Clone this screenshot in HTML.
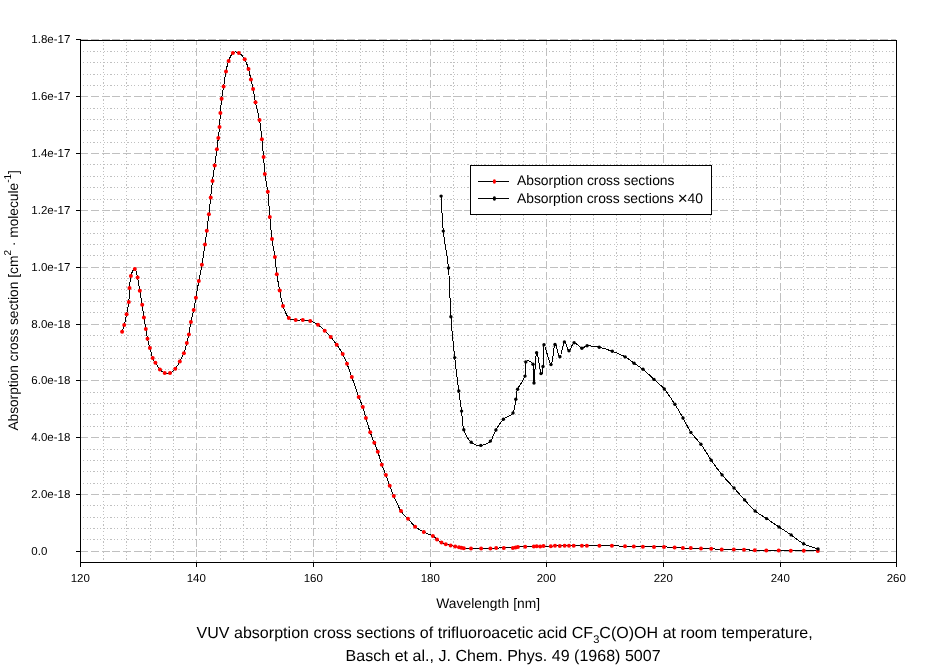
<!DOCTYPE html>
<html><head><meta charset="utf-8"><title>VUV absorption cross sections</title>
<style>html,body{margin:0;padding:0;background:#fff}svg{display:block;will-change:transform}text{font-family:"Liberation Sans",Arial,sans-serif;fill:#000;-webkit-font-smoothing:antialiased;text-rendering:geometricPrecision}</style></head><body>
<svg width="936" height="668" viewBox="0 0 936 668">
<rect width="936" height="668" fill="#fff"/>
<g shape-rendering="crispEdges" fill="none">
<path d="M103.5 41V562M126.5 41V562M150.5 41V562M173.5 41V562M220.5 41V562M243.5 41V562M266.5 41V562M290.5 41V562M336.5 41V562M360.5 41V562M383.5 41V562M406.5 41V562M453.5 41V562M476.5 41V562M500.5 41V562M523.5 41V562M570.5 41V562M593.5 41V562M616.5 41V562M640.5 41V562M686.5 41V562M710.5 41V562M733.5 41V562M756.5 41V562M803.5 41V562M826.5 41V562M850.5 41V562M873.5 41V562" stroke="#c0c0c0" stroke-width="1" stroke-dasharray="2 2 1 2 1 3 1 2 1 2" stroke-dashoffset="10"/>
<path d="M81 51.5H896M81 62.5H896M81 74.5H896M81 85.5H896M81 108.5H896M81 119.5H896M81 130.5H896M81 142.5H896M81 164.5H896M81 176.5H896M81 187.5H896M81 199.5H896M81 221.5H896M81 233.5H896M81 244.5H896M81 255.5H896M81 278.5H896M81 289.5H896M81 301.5H896M81 312.5H896M81 335.5H896M81 346.5H896M81 358.5H896M81 369.5H896M81 392.5H896M81 403.5H896M81 414.5H896M81 426.5H896M81 449.5H896M81 460.5H896M81 471.5H896M81 483.5H896M81 505.5H896M81 517.5H896M81 528.5H896M81 539.5H896" stroke="#c0c0c0" stroke-width="1" stroke-dasharray="2 2 1 2 1 3 1 2 1 2" stroke-dashoffset="5"/>
<path d="M196.5 41V562M313.5 41V562M430.5 41V562M546.5 41V562M663.5 41V562M780.5 41V562" stroke="#c0c0c0" stroke-width="1" stroke-dasharray="8 3 8 3 8 2" stroke-dashoffset="4"/>
<path d="M81 39.5H896M81 96.5H896M81 153.5H896M81 210.5H896M81 267.5H896M81 324.5H896M81 380.5H896M81 437.5H896M81 494.5H896M81 551.5H896" stroke="#c0c0c0" stroke-width="1" stroke-dasharray="8 3 8 3 8 2" stroke-dashoffset="1"/>
<rect x="80.5" y="40.5" width="816.0" height="522.0" stroke="#000" stroke-width="1"/>
<path d="M80.5 562.5V567.0M196.5 562.5V567.0M313.5 562.5V567.0M430.5 562.5V567.0M546.5 562.5V567.0M663.5 562.5V567.0M780.5 562.5V567.0M896.5 562.5V567.0M76.0 39.5H80.5M76.0 96.5H80.5M76.0 153.5H80.5M76.0 210.5H80.5M76.0 267.5H80.5M76.0 324.5H80.5M76.0 380.5H80.5M76.0 437.5H80.5M76.0 494.5H80.5M76.0 551.5H80.5" stroke="#000" stroke-width="1"/>
</g>
<g fill="none" stroke="#000" stroke-width="1" stroke-linejoin="round" shape-rendering="crispEdges">
<path d="M122.1 331.8C122.4 330.7 123.5 328.0 124.2 325.1C125.0 322.2 125.8 318.1 126.6 314.3C127.4 310.5 128.3 306.5 128.8 302.1C129.3 297.7 129.2 292.4 129.5 288.0C129.8 283.6 130.0 279.2 130.9 276.0C131.8 272.8 133.7 268.8 134.8 269.0C135.9 269.2 136.8 273.8 137.6 277.4C138.4 281.0 139.0 286.2 139.8 290.8C140.6 295.4 141.5 300.3 142.2 304.7C142.9 309.1 143.3 313.3 143.9 317.4C144.5 321.4 145.2 325.4 145.8 329.0C146.4 332.6 146.8 335.7 147.5 338.8C148.2 341.9 149.0 344.7 149.9 347.9C150.8 351.1 151.8 355.5 152.7 358.0C153.6 360.5 154.2 360.9 155.4 362.8C156.6 364.7 158.4 367.8 159.9 369.5C161.4 371.2 163.0 372.5 164.7 373.1C166.4 373.7 168.2 373.8 170.0 373.1C171.8 372.4 173.7 370.6 175.3 368.7C176.9 366.8 178.4 364.2 179.8 361.6C181.2 359.0 182.7 356.3 183.9 353.2C185.1 350.1 186.0 346.2 186.8 343.1C187.6 340.0 188.2 338.0 188.9 334.5C189.6 331.0 190.1 326.1 190.9 322.0C191.7 317.9 192.9 314.0 193.7 310.0C194.5 306.0 195.1 302.6 195.9 297.8C196.8 293.0 197.8 286.5 198.8 281.0C199.8 275.5 200.9 270.8 201.9 264.7C202.9 258.6 204.2 250.2 205.0 244.6C205.8 238.9 206.2 235.9 206.8 230.8C207.5 225.8 208.2 219.9 208.9 214.3C209.6 208.7 210.1 203.0 210.7 197.4C211.3 191.8 211.8 186.2 212.5 180.9C213.2 175.6 214.0 170.7 214.7 165.4C215.4 160.1 216.3 153.9 216.9 149.3C217.5 144.8 217.9 141.8 218.3 138.1C218.7 134.4 219.2 131.2 219.5 127.0C219.8 122.8 220.1 117.6 220.4 112.9C220.8 108.2 221.1 103.1 221.6 98.7C222.1 94.3 222.9 91.0 223.6 86.5C224.3 82.0 225.2 75.9 226.0 71.6C226.8 67.3 227.4 64.0 228.6 60.9C229.8 57.8 231.2 54.2 232.9 52.9C234.6 51.6 236.9 51.8 238.9 52.9C240.9 54.0 243.1 56.5 244.7 59.2C246.3 61.9 247.5 65.6 248.5 69.0C249.5 72.4 250.1 76.3 250.9 79.6C251.7 82.9 252.3 85.1 253.1 88.9C253.9 92.7 254.4 97.1 255.5 102.3C256.6 107.5 258.4 113.9 259.5 120.1C260.6 126.3 261.2 133.2 261.9 139.3C262.6 145.5 263.1 151.2 263.6 157.0C264.1 162.8 264.1 168.2 264.8 174.0C265.5 179.8 267.0 184.7 267.8 191.8C268.6 199.0 269.1 209.0 269.8 216.9C270.5 224.8 271.1 232.3 272.0 239.0C272.9 245.7 274.1 251.1 274.9 257.0C275.7 262.9 276.0 268.6 276.8 274.2C277.6 279.8 278.7 285.2 279.7 290.5C280.7 295.8 281.5 301.3 283.0 305.9C284.5 310.5 286.7 315.8 288.8 318.1C290.9 320.5 293.4 319.7 295.7 320.0C298.0 320.3 300.4 319.8 302.8 320.0C305.2 320.2 307.7 320.2 310.2 321.0C312.7 321.8 315.6 323.2 318.0 324.8C320.4 326.4 322.6 328.8 324.7 330.8C326.8 332.8 328.7 334.6 330.7 336.9C332.7 339.2 334.7 342.0 336.7 344.8C338.7 347.6 341.0 350.7 342.7 353.9C344.4 357.1 345.5 359.9 347.0 363.8C348.5 367.7 349.9 371.5 351.8 377.0C353.8 382.5 356.9 391.9 358.7 396.9C360.5 401.9 361.6 403.4 362.8 406.9C364.0 410.4 364.7 413.8 365.9 418.0C367.1 422.2 368.8 428.1 370.2 432.2C371.6 436.3 373.0 439.6 374.3 442.8C375.6 446.1 376.6 448.0 377.8 451.7C379.1 455.4 380.5 460.9 381.8 464.8C383.1 468.7 384.6 471.4 385.9 474.9C387.2 478.4 388.4 482.2 389.7 485.7C391.0 489.2 391.9 491.8 393.8 496.0C395.7 500.2 398.6 507.3 401.0 511.1C403.4 514.9 405.6 516.2 408.0 518.8C410.4 521.4 412.5 524.5 415.1 526.7C417.7 528.9 420.8 530.5 423.8 532.0C426.8 533.5 430.7 534.8 432.9 536.0C435.1 537.2 435.6 538.3 437.0 539.4C438.4 540.5 440.0 541.7 441.5 542.5C443.0 543.3 444.3 543.7 445.8 544.2C447.3 544.7 449.0 545.0 450.6 545.4C452.2 545.8 453.8 546.3 455.2 546.6C456.6 546.9 458.0 547.1 459.0 547.3C460.0 547.5 460.6 547.6 461.4 547.8C462.2 548.0 462.2 548.2 463.8 548.3C465.4 548.4 468.1 548.5 471.0 548.5C473.9 548.5 477.9 548.5 481.1 548.5C484.3 548.5 487.9 548.5 490.4 548.4C492.9 548.3 494.0 548.2 496.2 548.1C498.4 548.0 501.0 547.9 503.8 547.9C506.6 547.9 510.9 548.0 512.9 547.9C514.9 547.8 514.8 547.6 515.6 547.5C516.4 547.4 516.3 547.2 517.9 547.1C519.5 547.0 522.6 546.8 525.2 546.7C527.9 546.6 531.9 546.6 533.8 546.5C535.7 546.4 535.6 546.2 536.7 546.2C537.8 546.2 539.1 546.5 540.2 546.5C541.3 546.5 541.7 546.0 543.5 546.0C545.3 546.0 548.9 546.2 550.8 546.2C552.7 546.2 553.5 545.8 555.0 545.8C556.5 545.8 558.2 546.0 559.8 546.0C561.4 546.0 563.1 545.8 564.6 545.8C566.1 545.8 567.5 545.8 569.0 545.8C570.5 545.8 571.6 545.8 573.7 545.8C575.9 545.8 579.7 545.8 581.9 545.8C584.1 545.8 584.0 545.8 586.9 545.8C589.8 545.8 595.2 545.8 599.4 545.8C603.6 545.8 607.6 545.7 611.9 545.8C616.2 545.9 621.4 546.1 625.0 546.2C628.6 546.3 630.8 546.4 633.8 546.5C636.8 546.6 639.5 546.6 642.9 546.7C646.3 546.8 650.5 546.9 654.0 546.9C657.5 546.9 660.6 546.8 664.0 546.9C667.4 547.0 671.5 547.3 674.6 547.5C677.8 547.7 680.2 548.0 682.9 548.1C685.6 548.2 687.8 548.0 690.8 548.1C693.8 548.2 697.6 548.4 701.0 548.5C704.4 548.6 707.8 548.6 711.2 548.8C714.7 548.9 717.9 549.3 721.7 549.4C725.5 549.5 730.1 549.3 733.8 549.4C737.5 549.5 740.5 549.7 744.0 549.8C747.5 549.9 751.1 550.1 754.8 550.2C758.5 550.3 762.3 550.4 766.3 550.4C770.3 550.4 774.6 550.3 778.7 550.4C782.8 550.5 786.6 550.7 790.8 550.8C795.0 550.9 799.3 550.8 803.8 550.8C808.3 550.8 815.5 551.0 817.8 551.0"/>
<path d="M441.1 196.1C441.5 201.9 442.1 219.1 443.3 231.1C444.5 243.1 447.2 253.7 448.5 268.0C449.8 282.3 449.9 301.8 450.9 316.7C451.9 331.6 453.4 345.2 454.7 357.6C456.0 370.0 457.6 382.1 458.8 391.0C460.0 399.9 460.8 404.6 461.6 411.1C462.4 417.6 462.2 424.6 463.8 429.8C465.4 435.0 468.4 439.7 471.2 442.3C474.0 444.9 477.6 445.6 480.8 445.4C484.0 445.2 487.9 443.7 490.4 441.1C492.9 438.5 493.7 433.6 495.9 430.0C498.1 426.4 500.5 422.1 503.4 419.3C506.2 416.5 510.9 416.4 513.0 413.0C515.1 409.6 515.0 403.2 515.8 399.2C516.6 395.2 516.1 393.0 517.6 389.2C519.1 385.4 523.6 380.7 525.0 376.1C526.4 371.6 524.5 363.9 525.8 361.9C527.1 359.9 531.6 360.7 533.0 364.2C534.4 367.7 533.4 384.9 534.0 383.0C534.6 381.1 535.4 354.3 536.6 352.7C537.8 351.1 539.9 371.3 541.0 373.6C542.1 375.9 542.5 371.3 543.0 366.5C543.5 361.7 542.7 345.0 544.0 344.7C545.3 344.4 549.2 364.6 551.0 364.6C552.8 364.6 553.5 345.8 555.0 344.5C556.5 343.2 558.3 357.2 559.9 356.8C561.5 356.4 562.9 342.9 564.4 341.9C565.9 340.9 567.4 350.6 569.0 350.8C570.6 351.0 572.0 343.2 574.1 342.8C576.2 342.4 579.7 347.7 581.9 348.2C584.1 348.7 584.2 345.9 587.1 345.8C590.0 345.7 595.0 346.4 599.2 347.3C603.4 348.2 608.0 349.7 612.3 351.3C616.6 352.9 621.6 354.9 625.2 356.9C628.8 358.9 631.1 361.2 634.1 363.3C637.1 365.4 639.7 366.6 643.0 369.3C646.3 372.0 650.5 376.1 654.0 379.4C657.5 382.7 660.8 384.9 664.3 389.0C667.8 393.1 671.8 399.5 674.9 404.3C678.0 409.1 680.3 413.3 683.0 418.0C685.7 422.7 687.9 428.0 690.9 432.4C693.9 436.8 697.5 439.6 700.9 444.2C704.3 448.8 707.7 455.1 711.2 460.2C714.7 465.3 718.3 470.3 722.1 474.9C725.9 479.5 730.2 483.8 734.0 488.0C737.8 492.2 741.1 496.1 744.6 499.9C748.1 503.7 751.4 507.9 755.1 511.0C758.8 514.1 762.6 515.9 766.6 518.6C770.6 521.3 775.0 524.3 779.1 527.0C783.2 529.7 787.0 532.1 791.1 534.9C795.2 537.7 799.1 541.4 803.6 543.8C808.1 546.1 815.6 548.1 818.0 549.0"/>
</g>
<g fill="#ff0000"><circle cx="122.1" cy="331.8" r="2"/><circle cx="124.2" cy="325.1" r="2"/><circle cx="126.6" cy="314.3" r="2"/><circle cx="128.8" cy="302.1" r="2"/><circle cx="129.5" cy="288.0" r="2"/><circle cx="130.9" cy="276.0" r="2"/><circle cx="134.8" cy="269.0" r="2"/><circle cx="137.6" cy="277.4" r="2"/><circle cx="139.8" cy="290.8" r="2"/><circle cx="142.2" cy="304.7" r="2"/><circle cx="143.9" cy="317.4" r="2"/><circle cx="145.8" cy="329.0" r="2"/><circle cx="147.5" cy="338.8" r="2"/><circle cx="149.9" cy="347.9" r="2"/><circle cx="152.7" cy="358.0" r="2"/><circle cx="155.4" cy="362.8" r="2"/><circle cx="159.9" cy="369.5" r="2"/><circle cx="164.7" cy="373.1" r="2"/><circle cx="170.0" cy="373.1" r="2"/><circle cx="175.3" cy="368.7" r="2"/><circle cx="179.8" cy="361.6" r="2"/><circle cx="183.9" cy="353.2" r="2"/><circle cx="186.8" cy="343.1" r="2"/><circle cx="188.9" cy="334.5" r="2"/><circle cx="190.9" cy="322.0" r="2"/><circle cx="193.7" cy="310.0" r="2"/><circle cx="195.9" cy="297.8" r="2"/><circle cx="198.8" cy="281.0" r="2"/><circle cx="201.9" cy="264.7" r="2"/><circle cx="205.0" cy="244.6" r="2"/><circle cx="206.8" cy="230.8" r="2"/><circle cx="208.9" cy="214.3" r="2"/><circle cx="210.7" cy="197.4" r="2"/><circle cx="212.5" cy="180.9" r="2"/><circle cx="214.7" cy="165.4" r="2"/><circle cx="216.9" cy="149.3" r="2"/><circle cx="218.3" cy="138.1" r="2"/><circle cx="219.5" cy="127.0" r="2"/><circle cx="220.4" cy="112.9" r="2"/><circle cx="221.6" cy="98.7" r="2"/><circle cx="223.6" cy="86.5" r="2"/><circle cx="226.0" cy="71.6" r="2"/><circle cx="228.6" cy="60.9" r="2"/><circle cx="232.9" cy="52.9" r="2"/><circle cx="238.9" cy="52.9" r="2"/><circle cx="244.7" cy="59.2" r="2"/><circle cx="248.5" cy="69.0" r="2"/><circle cx="250.9" cy="79.6" r="2"/><circle cx="253.1" cy="88.9" r="2"/><circle cx="255.5" cy="102.3" r="2"/><circle cx="259.5" cy="120.1" r="2"/><circle cx="261.9" cy="139.3" r="2"/><circle cx="263.6" cy="157.0" r="2"/><circle cx="264.8" cy="174.0" r="2"/><circle cx="267.8" cy="191.8" r="2"/><circle cx="269.8" cy="216.9" r="2"/><circle cx="272.0" cy="239.0" r="2"/><circle cx="274.9" cy="257.0" r="2"/><circle cx="276.8" cy="274.2" r="2"/><circle cx="279.7" cy="290.5" r="2"/><circle cx="283.0" cy="305.9" r="2"/><circle cx="288.8" cy="318.1" r="2"/><circle cx="295.7" cy="320.0" r="2"/><circle cx="302.8" cy="320.0" r="2"/><circle cx="310.2" cy="321.0" r="2"/><circle cx="318.0" cy="324.8" r="2"/><circle cx="324.7" cy="330.8" r="2"/><circle cx="330.7" cy="336.9" r="2"/><circle cx="336.7" cy="344.8" r="2"/><circle cx="342.7" cy="353.9" r="2"/><circle cx="347.0" cy="363.8" r="2"/><circle cx="351.8" cy="377.0" r="2"/><circle cx="358.7" cy="396.9" r="2"/><circle cx="362.8" cy="406.9" r="2"/><circle cx="365.9" cy="418.0" r="2"/><circle cx="370.2" cy="432.2" r="2"/><circle cx="374.3" cy="442.8" r="2"/><circle cx="377.8" cy="451.7" r="2"/><circle cx="381.8" cy="464.8" r="2"/><circle cx="385.9" cy="474.9" r="2"/><circle cx="389.7" cy="485.7" r="2"/><circle cx="393.8" cy="496.0" r="2"/><circle cx="401.0" cy="511.1" r="2"/><circle cx="408.0" cy="518.8" r="2"/><circle cx="415.1" cy="526.7" r="2"/><circle cx="423.8" cy="532.0" r="2"/><circle cx="432.9" cy="536.0" r="2"/><circle cx="437.0" cy="539.4" r="2"/><circle cx="441.5" cy="542.5" r="2"/><circle cx="445.8" cy="544.2" r="2"/><circle cx="450.6" cy="545.4" r="2"/><circle cx="455.2" cy="546.6" r="2"/><circle cx="459.0" cy="547.3" r="2"/><circle cx="461.4" cy="547.8" r="2"/><circle cx="463.8" cy="548.3" r="2"/><circle cx="471.0" cy="548.5" r="2"/><circle cx="481.1" cy="548.5" r="2"/><circle cx="490.4" cy="548.4" r="2"/><circle cx="496.2" cy="548.1" r="2"/><circle cx="503.8" cy="547.9" r="2"/><circle cx="512.9" cy="547.9" r="2"/><circle cx="515.6" cy="547.5" r="2"/><circle cx="517.9" cy="547.1" r="2"/><circle cx="525.2" cy="546.7" r="2"/><circle cx="533.8" cy="546.5" r="2"/><circle cx="536.7" cy="546.2" r="2"/><circle cx="540.2" cy="546.5" r="2"/><circle cx="543.5" cy="546.0" r="2"/><circle cx="550.8" cy="546.2" r="2"/><circle cx="555.0" cy="545.8" r="2"/><circle cx="559.8" cy="546.0" r="2"/><circle cx="564.6" cy="545.8" r="2"/><circle cx="569.0" cy="545.8" r="2"/><circle cx="573.7" cy="545.8" r="2"/><circle cx="581.9" cy="545.8" r="2"/><circle cx="586.9" cy="545.8" r="2"/><circle cx="599.4" cy="545.8" r="2"/><circle cx="611.9" cy="545.8" r="2"/><circle cx="625.0" cy="546.2" r="2"/><circle cx="633.8" cy="546.5" r="2"/><circle cx="642.9" cy="546.7" r="2"/><circle cx="654.0" cy="546.9" r="2"/><circle cx="664.0" cy="546.9" r="2"/><circle cx="674.6" cy="547.5" r="2"/><circle cx="682.9" cy="548.1" r="2"/><circle cx="690.8" cy="548.1" r="2"/><circle cx="701.0" cy="548.5" r="2"/><circle cx="711.2" cy="548.8" r="2"/><circle cx="721.7" cy="549.4" r="2"/><circle cx="733.8" cy="549.4" r="2"/><circle cx="744.0" cy="549.8" r="2"/><circle cx="754.8" cy="550.2" r="2"/><circle cx="766.3" cy="550.4" r="2"/><circle cx="778.7" cy="550.4" r="2"/><circle cx="790.8" cy="550.8" r="2"/><circle cx="803.8" cy="550.8" r="2"/><circle cx="817.8" cy="551.0" r="2"/></g>
<g fill="#000"><circle cx="441.1" cy="196.1" r="1.7"/><circle cx="443.3" cy="231.1" r="1.7"/><circle cx="448.5" cy="268.0" r="1.7"/><circle cx="450.9" cy="316.7" r="1.7"/><circle cx="454.7" cy="357.6" r="1.7"/><circle cx="458.8" cy="391.0" r="1.7"/><circle cx="461.6" cy="411.1" r="1.7"/><circle cx="463.8" cy="429.8" r="1.7"/><circle cx="471.2" cy="442.3" r="1.7"/><circle cx="480.8" cy="445.4" r="1.7"/><circle cx="490.4" cy="441.1" r="1.7"/><circle cx="495.9" cy="430.0" r="1.7"/><circle cx="503.4" cy="419.3" r="1.7"/><circle cx="513.0" cy="413.0" r="1.7"/><circle cx="515.8" cy="399.2" r="1.7"/><circle cx="517.6" cy="389.2" r="1.7"/><circle cx="525.0" cy="376.1" r="1.7"/><circle cx="525.8" cy="361.9" r="1.7"/><circle cx="533.0" cy="364.2" r="1.7"/><circle cx="534.0" cy="383.0" r="1.7"/><circle cx="536.6" cy="352.7" r="1.7"/><circle cx="541.0" cy="373.6" r="1.7"/><circle cx="543.0" cy="366.5" r="1.7"/><circle cx="544.0" cy="344.7" r="1.7"/><circle cx="551.0" cy="364.6" r="1.7"/><circle cx="555.0" cy="344.5" r="1.7"/><circle cx="559.9" cy="356.8" r="1.7"/><circle cx="564.4" cy="341.9" r="1.7"/><circle cx="569.0" cy="350.8" r="1.7"/><circle cx="574.1" cy="342.8" r="1.7"/><circle cx="581.9" cy="348.2" r="1.7"/><circle cx="587.1" cy="345.8" r="1.7"/><circle cx="599.2" cy="347.3" r="1.7"/><circle cx="612.3" cy="351.3" r="1.7"/><circle cx="625.2" cy="356.9" r="1.7"/><circle cx="634.1" cy="363.3" r="1.7"/><circle cx="643.0" cy="369.3" r="1.7"/><circle cx="654.0" cy="379.4" r="1.7"/><circle cx="664.3" cy="389.0" r="1.7"/><circle cx="674.9" cy="404.3" r="1.7"/><circle cx="683.0" cy="418.0" r="1.7"/><circle cx="690.9" cy="432.4" r="1.7"/><circle cx="700.9" cy="444.2" r="1.7"/><circle cx="711.2" cy="460.2" r="1.7"/><circle cx="722.1" cy="474.9" r="1.7"/><circle cx="734.0" cy="488.0" r="1.7"/><circle cx="744.6" cy="499.9" r="1.7"/><circle cx="755.1" cy="511.0" r="1.7"/><circle cx="766.6" cy="518.6" r="1.7"/><circle cx="779.1" cy="527.0" r="1.7"/><circle cx="791.1" cy="534.9" r="1.7"/><circle cx="803.6" cy="543.8" r="1.7"/><circle cx="818.0" cy="549.0" r="1.7"/></g>
<rect x="470.5" y="165.5" width="241" height="49" fill="#fff" stroke="#000" stroke-width="1" shape-rendering="crispEdges"/>
<path d="M478 181.5H509M478 198.5H509" stroke="#000" stroke-width="1" shape-rendering="crispEdges"/>
<ellipse cx="494.4" cy="181.5" rx="1.6" ry="2.2" fill="#f00"/><ellipse cx="494.4" cy="198.5" rx="1.6" ry="2.2" fill="#000"/>
<text x="517" y="185.2" font-size="13.9" textLength="157.5" lengthAdjust="spacing">Absorption cross sections</text>
<text x="517" y="203" font-size="13.9" textLength="186" lengthAdjust="spacing">Absorption cross sections <tspan font-size="17" dy="0.8">×</tspan><tspan dy="-0.8">40</tspan></text>
<text x="31.3" y="43.1" font-size="11.5">1.8e-17</text>
<text x="31.3" y="100.1" font-size="11.5">1.6e-17</text>
<text x="31.3" y="157.1" font-size="11.5">1.4e-17</text>
<text x="31.3" y="214.1" font-size="11.5">1.2e-17</text>
<text x="31.3" y="271.1" font-size="11.5">1.0e-17</text>
<text x="31.3" y="328.1" font-size="11.5">8.0e-18</text>
<text x="31.3" y="384.1" font-size="11.5">6.0e-18</text>
<text x="31.3" y="441.1" font-size="11.5">4.0e-18</text>
<text x="31.3" y="498.1" font-size="11.5">2.0e-18</text>
<text x="31.3" y="555.1" font-size="11.5">0.0</text>
<text x="80.3" y="581.6" font-size="11.5" text-anchor="middle">120</text>
<text x="196.3" y="581.6" font-size="11.5" text-anchor="middle">140</text>
<text x="313.3" y="581.6" font-size="11.5" text-anchor="middle">160</text>
<text x="430.3" y="581.6" font-size="11.5" text-anchor="middle">180</text>
<text x="546.3" y="581.6" font-size="11.5" text-anchor="middle">200</text>
<text x="663.3" y="581.6" font-size="11.5" text-anchor="middle">220</text>
<text x="780.3" y="581.6" font-size="11.5" text-anchor="middle">240</text>
<text x="896.3" y="581.6" font-size="11.5" text-anchor="middle">260</text>
<text x="436.2" y="608" font-size="13.8" textLength="104" lengthAdjust="spacing">Wavelength [nm]</text>
<g transform="translate(17.7 430.6) rotate(-90)" font-size="13.8"><text x="0" y="0" textLength="149" lengthAdjust="spacing">Absorption cross section</text><text x="152.9" y="0" textLength="107.6" lengthAdjust="spacing">[cm<tspan font-size="10" dy="-6.8">2</tspan><tspan dy="6.8"> · molecule</tspan><tspan font-size="10" dy="-6.8">-1</tspan><tspan dy="6.8">]</tspan></text></g>
<text x="196.5" y="637.6" font-size="16" textLength="616.2" lengthAdjust="spacing">VUV absorption cross sections of trifluoroacetic acid CF<tspan font-size="11" dy="5">3</tspan><tspan dy="-5">C(O)OH at room temperature,</tspan></text>
<text x="345.6" y="660.6" font-size="16" textLength="315" lengthAdjust="spacing">Basch et al., J. Chem. Phys. 49 (1968) 5007</text>
</svg></body></html>
